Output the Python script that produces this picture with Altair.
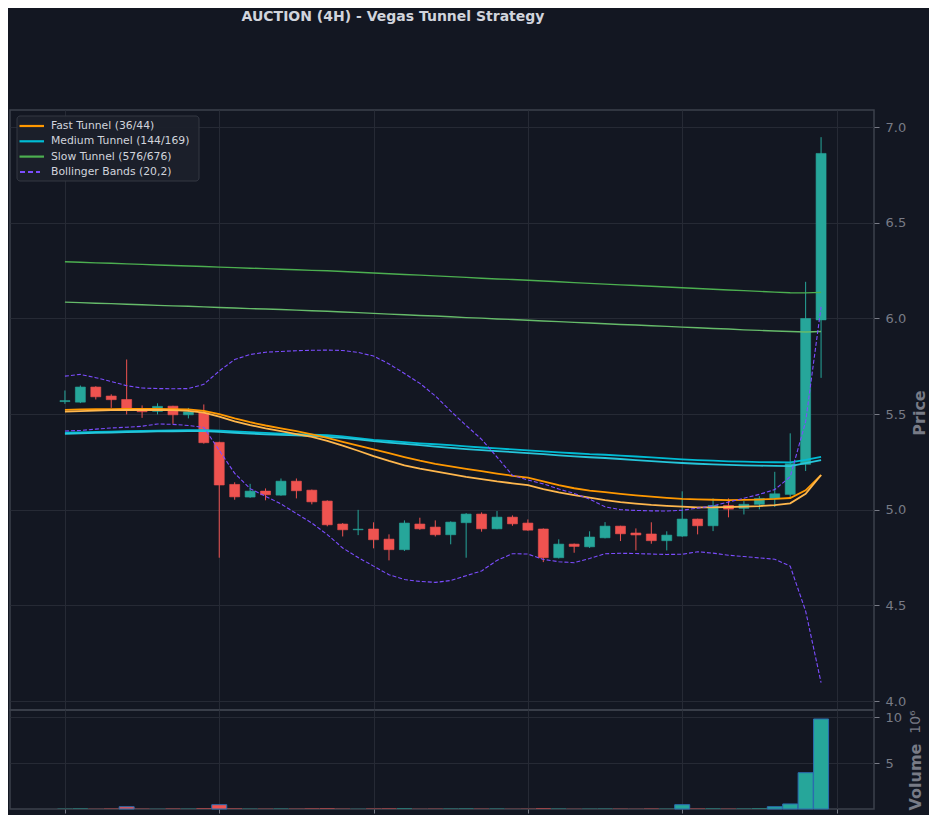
import altair as alt
import pandas as pd

# ---------------- data ----------------
candle_idx = list(range(50))
opens = [5.565, 5.562, 5.641, 5.594, 5.576, 5.527, 5.514, 5.541, 5.496, 5.506,
         5.352, 5.132, 5.066, 5.097, 5.076, 5.149, 5.102, 5.045, 4.925, 4.895,
         4.899, 4.846, 4.791, 4.925, 4.909, 4.869, 4.932, 4.977, 4.900, 4.961,
         4.930, 4.899, 4.749, 4.820, 4.806, 4.853, 4.914, 4.878, 4.873, 4.838,
         4.862, 4.951, 4.916, 5.022, 5.007, 5.028, 5.057, 5.080, 5.237, 5.992]
highs = [5.623, 5.649, 5.645, 5.603, 5.785, 5.545, 5.556, 5.543, 5.532, 5.550,
         5.355, 5.143, 5.135, 5.111, 5.163, 5.163, 5.105, 5.049, 4.930, 4.999,
         4.934, 4.871, 4.944, 4.958, 4.944, 4.939, 4.982, 4.986, 4.993, 4.970,
         4.949, 4.902, 4.845, 4.823, 4.887, 4.935, 4.916, 4.902, 4.934, 4.887,
         5.096, 4.953, 5.059, 5.059, 5.045, 5.071, 5.198, 5.399, 6.191, 6.947]
lows = [5.553, 5.557, 5.576, 5.532, 5.498, 5.480, 5.498, 5.449, 5.477, 5.345,
        4.749, 5.052, 5.062, 5.049, 5.073, 5.059, 5.028, 4.913, 4.860, 4.867,
        4.798, 4.735, 4.784, 4.895, 4.860, 4.819, 4.749, 4.885, 4.898, 4.916,
        4.890, 4.726, 4.745, 4.775, 4.800, 4.850, 4.836, 4.787, 4.822, 4.787,
        4.858, 4.871, 4.888, 4.960, 4.975, 5.002, 5.014, 5.062, 5.202, 5.689]
closes = [5.570, 5.641, 5.590, 5.575, 5.524, 5.512, 5.540, 5.496, 5.511, 5.350,
          5.129, 5.067, 5.097, 5.078, 5.149, 5.099, 5.041, 4.921, 4.895, 4.898,
          4.843, 4.791, 4.930, 4.900, 4.869, 4.935, 4.977, 4.900, 4.961, 4.926,
          4.893, 4.749, 4.820, 4.808, 4.857, 4.914, 4.874, 4.868, 4.838, 4.867,
          4.951, 4.916, 5.022, 5.003, 5.028, 5.059, 5.083, 5.240, 5.999, 6.862]
volumes_m = [0.03, 0.05, 0.02, 0.04, 0.25, 0.03, 0.02, 0.04, 0.03, 0.06,
             0.47, 0.05, 0.03, 0.02, 0.04, 0.03, 0.05, 0.06, 0.03, 0.02,
             0.04, 0.05, 0.06, 0.02, 0.03, 0.04, 0.05, 0.03, 0.04, 0.02,
             0.03, 0.06, 0.04, 0.02, 0.03, 0.04, 0.03, 0.02, 0.04, 0.03,
             0.47, 0.04, 0.05, 0.03, 0.04, 0.06, 0.25, 0.55, 3.96, 9.82]

fast_a = [5.522, 5.524, 5.525, 5.526, 5.527, 5.527, 5.527, 5.526, 5.524, 5.516,
          5.500, 5.477, 5.457, 5.440, 5.425, 5.410, 5.394, 5.375, 5.355, 5.335,
          5.315, 5.295, 5.275, 5.256, 5.240, 5.226, 5.213, 5.201, 5.189, 5.177,
          5.167, 5.148, 5.128, 5.112, 5.100, 5.092, 5.083, 5.075, 5.068, 5.062,
          5.057, 5.054, 5.052, 5.050, 5.051, 5.053, 5.056, 5.061, 5.101, 5.181]
fast_b = [5.512, 5.515, 5.518, 5.520, 5.521, 5.521, 5.521, 5.520, 5.516, 5.507,
          5.486, 5.462, 5.442, 5.425, 5.410, 5.395, 5.380, 5.360, 5.335, 5.308,
          5.280, 5.255, 5.232, 5.215, 5.200, 5.186, 5.172, 5.160, 5.148, 5.138,
          5.128, 5.108, 5.090, 5.076, 5.063, 5.050, 5.040, 5.032, 5.025, 5.020,
          5.016, 5.012, 5.012, 5.014, 5.016, 5.019, 5.024, 5.033, 5.083, 5.181]
med_a = [5.402, 5.404, 5.406, 5.408, 5.410, 5.412, 5.413, 5.415, 5.416, 5.416,
         5.413, 5.409, 5.405, 5.401, 5.398, 5.395, 5.392, 5.389, 5.383, 5.374,
         5.365, 5.359, 5.353, 5.347, 5.342, 5.337, 5.331, 5.325, 5.320, 5.315,
         5.310, 5.305, 5.300, 5.295, 5.290, 5.287, 5.283, 5.278, 5.273, 5.268,
         5.263, 5.259, 5.256, 5.253, 5.251, 5.249, 5.248, 5.247, 5.260, 5.276]
med_b = [5.396, 5.399, 5.401, 5.403, 5.405, 5.407, 5.409, 5.410, 5.411, 5.411,
         5.407, 5.402, 5.398, 5.394, 5.391, 5.388, 5.385, 5.381, 5.375, 5.367,
         5.358, 5.351, 5.344, 5.337, 5.330, 5.323, 5.317, 5.311, 5.306, 5.301,
         5.296, 5.290, 5.284, 5.279, 5.274, 5.270, 5.265, 5.259, 5.254, 5.249,
         5.244, 5.240, 5.237, 5.234, 5.232, 5.230, 5.229, 5.228, 5.243, 5.259]
slow_a = [6.296, 6.293, 6.290, 6.288, 6.285, 6.282, 6.279, 6.276, 6.274, 6.271,
          6.268, 6.265, 6.262, 6.260, 6.257, 6.254, 6.251, 6.249, 6.245, 6.241,
          6.237, 6.233, 6.229, 6.226, 6.222, 6.218, 6.214, 6.210, 6.206, 6.203,
          6.199, 6.195, 6.191, 6.187, 6.183, 6.179, 6.175, 6.172, 6.168, 6.164,
          6.160, 6.156, 6.152, 6.148, 6.145, 6.141, 6.137, 6.134, 6.133, 6.136]
slow_b = [6.085, 6.082, 6.079, 6.077, 6.074, 6.071, 6.068, 6.065, 6.063, 6.060,
          6.057, 6.054, 6.051, 6.049, 6.046, 6.043, 6.040, 6.037, 6.033, 6.030,
          6.026, 6.022, 6.019, 6.015, 6.012, 6.008, 6.004, 6.001, 5.997, 5.994,
          5.990, 5.986, 5.983, 5.979, 5.976, 5.972, 5.968, 5.965, 5.961, 5.958,
          5.954, 5.951, 5.947, 5.944, 5.940, 5.937, 5.934, 5.931, 5.929, 5.931]
bb_upper = [5.698, 5.707, 5.690, 5.670, 5.648, 5.636, 5.633, 5.632, 5.633, 5.655,
            5.725, 5.785, 5.811, 5.823, 5.827, 5.831, 5.833, 5.834, 5.832, 5.822,
            5.803, 5.762, 5.712, 5.660, 5.595, 5.515, 5.440, 5.368, 5.275, 5.180,
            5.155, 5.135, 5.108, 5.085, 5.055, 5.015, 5.000, 4.996, 4.994, 4.993,
            4.997, 5.008, 5.020, 5.040, 5.060, 5.080, 5.105, 5.172, 5.460, 6.060]
bb_lower = [5.411, 5.414, 5.421, 5.427, 5.431, 5.436, 5.448, 5.446, 5.440, 5.430,
            5.310, 5.190, 5.110, 5.070, 5.030, 4.980, 4.930, 4.870, 4.800, 4.750,
            4.705, 4.660, 4.635, 4.625, 4.620, 4.630, 4.655, 4.680, 4.735, 4.770,
            4.768, 4.740, 4.728, 4.723, 4.745, 4.770, 4.772, 4.771, 4.768, 4.766,
            4.767, 4.780, 4.773, 4.762, 4.755, 4.748, 4.741, 4.705, 4.470, 4.096]

title_text = "AUCTION (4H) - Vegas Tunnel Strategy"
legend_labels = ["Fast Tunnel (36/44)", "Medium Tunnel (144/169)",
                 "Slow Tunnel (576/676)", "Bollinger Bands (20,2)"]
price_label = "Price"
volume_label = "Volume"
volume_offset_label = "10\u2076"
price_ticks = [4.0, 4.5, 5.0, 5.5, 6.0, 6.5, 7.0]
volume_ticks = [5, 10]
x_ticks = [0, 10, 20, 30, 40, 50]

# ---------------- styles ----------------
BG = "#131722"
GRID = "#262a35"
BORDER = "#3d414c"
TICK = "#787b86"
TXT = "#d1d4dc"
UP = "#26a69a"
DOWN = "#ef5350"
FAST_A, FAST_B = "#ff9800", "#ffb74d"
MED_A, MED_B = "#00bcd4", "#26c6da"
SLOW_A, SLOW_B = "#4caf50", "#66bb6a"
BB = "#7c4dff"
EDGE = "#2b6cb0"

W = 864
H_PRICE = 600
H_VOL = 99

df = pd.DataFrame({
    "i": candle_idx, "open": opens, "high": highs, "low": lows, "close": closes,
    "vol": volumes_m, "fa": fast_a, "fb": fast_b, "ma": med_a, "mb": med_b,
    "sa": slow_a, "sb": slow_b, "bu": bb_upper, "bl": bb_lower,
})
df["dir"] = ["up" if c >= o else "down" for o, c in zip(opens, closes)]

xscale = alt.Scale(domain=[-3.56, 52.43], nice=False, zero=False, padding=0)
pscale = alt.Scale(domain=[3.953, 7.089], nice=False, zero=False, padding=0)
vscale = alt.Scale(domain=[0, 10.8], nice=False, zero=False, padding=0)

x_axis_price = alt.Axis(orient="top", values=x_ticks, labels=False, ticks=False, domain=False,
                        grid=True, title=None, minExtent=0, maxExtent=0)
x_axis_vol = alt.Axis(values=x_ticks, labels=False, ticks=True, tickSize=4,
                      domain=False, grid=True, title=None, minExtent=0, maxExtent=5)
p_axis = alt.Axis(orient="right", values=price_ticks, format=".1f", title=None,
                  domain=False, grid=True, tickSize=5, labelPadding=6)
v_axis = alt.Axis(orient="right", values=volume_ticks, format="d", title=None,
                  domain=False, grid=True, tickSize=5, labelPadding=6)

color_scale = alt.Scale(domain=["up", "down"], range=[UP, DOWN])
color_enc = alt.Color("dir:N", scale=color_scale, legend=None)

base = alt.Chart(df)
X = alt.X("i:Q", scale=xscale, axis=x_axis_price)


def py(col):
    return alt.Y(f"{col}:Q", scale=pscale, axis=p_axis)


line_specs = [
    ("sa", SLOW_A, 1.4, None), ("sb", SLOW_B, 1.4, None),
    ("ma", MED_A, 1.8, None), ("mb", MED_B, 1.8, None),
    ("fa", FAST_A, 1.8, None), ("fb", FAST_B, 1.8, None),
    ("bu", BB, 1.1, [4, 2]), ("bl", BB, 1.1, [4, 2]),
]

wicks = base.mark_rule(strokeWidth=1).encode(x=X, y=py("low"), y2="high:Q", color=color_enc)
bodies = base.mark_bar(size=10, strokeWidth=0.6).encode(
    x=X, y=py("open"), y2="close:Q", color=color_enc,
    stroke=alt.Color("dir:N", scale=color_scale, legend=None))

layers = [wicks, bodies]
for col, colr, w, dash in line_specs:
    kw = dict(color=colr, strokeWidth=w)
    if dash:
        kw["strokeDash"] = dash
    layers.append(base.mark_line(**kw).encode(x=X, y=py(col)))

# legend box
one = pd.DataFrame({"k": [0]})
layers.append(alt.Chart(one).mark_rect(fill="#1c202b", stroke="#363a45", strokeWidth=1,
                                       cornerRadius=3, opacity=0.95).encode(
    x=alt.value(7), x2=alt.value(189), y=alt.value(6), y2=alt.value(71)))
legend_colors = [FAST_A, MED_A, SLOW_A, BB]
for k, (lab, colr) in enumerate(zip(legend_labels, legend_colors)):
    yy = 16 + 15.3 * k
    if colr == BB:
        sw = alt.Chart(one).mark_rule(color=colr, strokeWidth=2, strokeDash=[5, 3]).encode(
            x=alt.value(10), x2=alt.value(30), y=alt.value(yy))
    else:
        sw = alt.Chart(one).mark_rule(color=colr, strokeWidth=2.2).encode(
            x=alt.value(9.5), x2=alt.value(34), y=alt.value(yy))
    layers.append(sw)
    layers.append(alt.Chart(pd.DataFrame({"label": [lab]})).mark_text(
        align="left", baseline="middle", fontSize=10.8, color=TXT, font="DejaVu Sans").encode(
        x=alt.value(41), y=alt.value(yy), text="label:N"))

# title and price label
layers.append(alt.Chart(pd.DataFrame({"label": [title_text]})).mark_text(
    align="center", baseline="middle", fontSize=14, fontWeight="bold", color=TXT,
    font="DejaVu Sans").encode(x=alt.value(383), y=alt.value(-93), text="label:N"))
layers.append(alt.Chart(pd.DataFrame({"label": [price_label]})).mark_text(
    align="center", baseline="middle", fontSize=16, fontWeight="bold", color=TICK, angle=270,
    font="DejaVu Sans").encode(x=alt.value(910), y=alt.value(303), text="label:N"))

price = alt.layer(*layers).properties(width=W, height=H_PRICE)

# ---------------- volume ----------------
Xv = alt.X("i:Q", scale=xscale, axis=x_axis_vol)
vbars = base.mark_bar(size=15, strokeWidth=1).encode(
    x=Xv, y=alt.Y("vol:Q", scale=vscale, axis=v_axis), color=color_enc,
    stroke=alt.condition("datum.vol > 0.15", alt.value(EDGE), alt.value("transparent")))
vlab = alt.Chart(pd.DataFrame({"label": [volume_label]})).mark_text(
    align="center", baseline="middle", fontSize=16, fontWeight="bold", color=TICK, angle=270,
    font="DejaVu Sans").encode(x=alt.value(906), y=alt.value(67), text="label:N")
voff = alt.Chart(pd.DataFrame({"label": [volume_offset_label]})).mark_text(
    align="center", baseline="middle", fontSize=14, color=TICK, angle=270,
    font="DejaVu Sans").encode(x=alt.value(906), y=alt.value(12), text="label:N")
volume = alt.layer(vbars, vlab, voff).properties(width=W, height=H_VOL)

chart = alt.vconcat(price, volume, spacing=0, bounds="flush").configure(
    background=BG,
    padding={"left": 1, "top": 1, "right": 0, "bottom": 0},
    font="DejaVu Sans",
).configure_view(
    stroke=BORDER, strokeWidth=1.5,
).configure_axis(
    labelColor=TICK, tickColor=TICK, gridColor=GRID, gridWidth=1,
    labelFontSize=13, labelFont="DejaVu Sans",
)

chart.save("out.html", embed_options={"renderer": "svg", "actions": False})
